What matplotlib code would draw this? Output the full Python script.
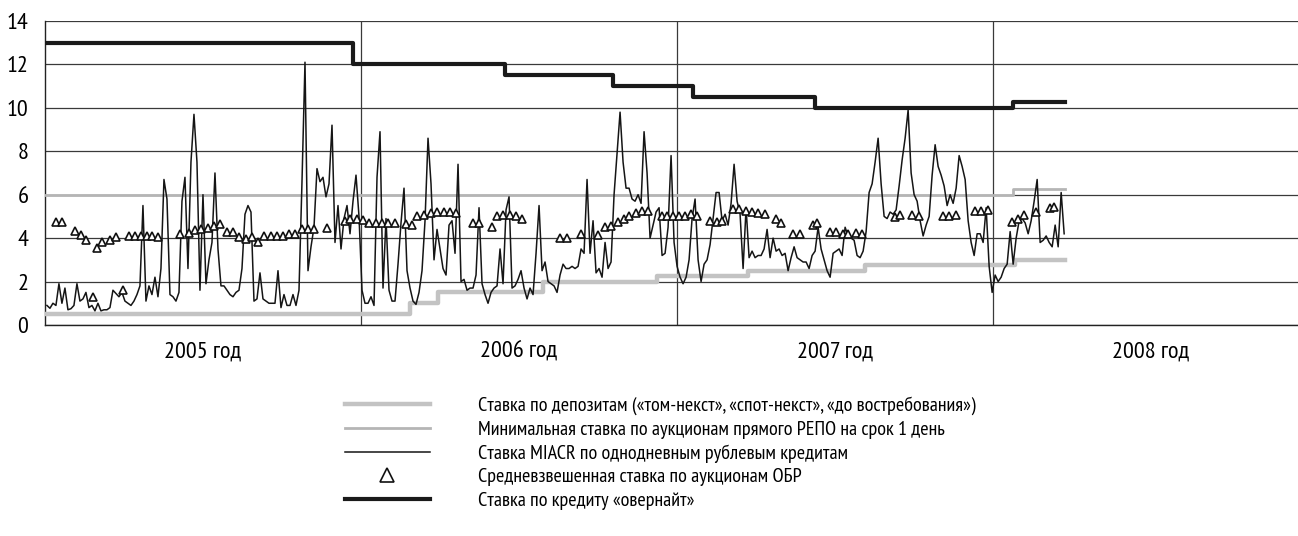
import numpy as np
import matplotlib.pyplot as plt

plt.rcParams['font.family'] = ['PT Sans Narrow', 'Roboto Condensed', 'DejaVu Sans']

# MIACR overnight rate at even steps from mid-Jan 2005 to end of Mar 2008
miacr_start, miacr_end = 2005.006, 2008.225
miacr = [
    0.9, 0.77, 1.0, 0.9, 1.9, 1.0, 1.7, 0.7, 0.75, 0.9,
    1.9, 1.1, 1.2, 1.5, 0.8, 0.9, 0.65, 1.0, 0.65, 0.7,
    0.7, 0.8, 1.6, 1.45, 1.3, 1.5, 1.1, 1.0, 0.9, 1.1,
    1.4, 1.8, 5.5, 1.1, 1.8, 1.4, 2.2, 1.3, 2.6, 6.7,
    5.8, 1.4, 1.3, 1.1, 1.5, 5.7, 6.8, 2.6, 7.5, 9.7,
    7.5,
    1.6, 6.0, 1.9, 3.0, 3.8, 7.0, 3.5, 1.8, 1.8, 1.6,
    1.4, 1.3, 1.5, 1.6, 2.6, 5.1, 5.5, 5.2, 1.1, 1.2,
    2.4, 1.2, 1.1, 1.0, 1.0, 1.0, 2.5, 0.8, 1.4, 0.9,
    0.9, 1.4, 0.9, 1.6, 6.6, 12.1, 2.5, 3.6, 4.5, 7.2,
    6.6, 6.8, 5.9, 6.5, 9.2, 3.8, 5.5, 3.5, 4.9, 5.5,
    4.2, 5.7,
    6.9, 5.0, 1.6, 1.0, 1.0, 1.3, 0.9, 6.8, 8.9, 1.7,
    4.9, 1.6, 1.1, 1.1, 2.8, 4.7, 6.3, 2.5, 1.7, 1.1,
    0.95, 1.5, 2.5, 4.8, 8.6, 6.5, 3.0, 4.4, 3.5, 2.6,
    2.3, 4.6, 4.8, 3.3, 7.4, 2.0, 2.1, 1.6, 1.7, 1.7,
    2.3, 5.4, 1.9, 1.4, 1.0, 1.5, 1.7, 1.8, 3.5, 1.9,
    5.3,
    5.9, 1.7, 1.8, 2.1, 2.5, 1.7, 1.2, 1.7, 1.4, 3.3,
    5.5, 2.5, 2.9, 2.0, 1.9, 1.8, 1.5, 2.3, 2.8, 2.6,
    2.6, 2.7, 2.6, 2.7, 3.5, 3.3, 6.7, 3.3, 4.8, 2.4,
    2.6, 2.2, 3.8, 2.6, 2.9, 6.0, 7.9, 9.8, 7.5, 6.3,
    6.3, 5.8, 5.7, 6.0, 5.6, 8.9, 7.0, 4.0, 4.6, 5.2,
    5.4, 3.2,
    3.3, 4.5, 7.8, 3.8, 2.7, 2.2, 1.9, 2.2, 3.0, 4.9,
    5.8, 3.0, 2.0, 2.8, 3.0, 3.7, 4.9, 6.1, 6.1, 4.8,
    5.1, 4.6, 5.6, 7.4, 5.7, 5.1, 2.6, 5.4, 3.1, 3.4,
    3.1, 3.2, 3.2, 3.5, 4.4, 3.1, 4.0, 3.4, 3.5, 3.2,
    3.3, 2.5, 3.1, 3.6, 3.1, 3.0, 2.9, 2.9, 2.6, 3.2,
    3.4, 4.5,
    3.5, 3.0, 2.5, 2.2, 3.3, 3.4, 3.5, 3.2, 4.5, 4.1,
    4.0, 3.9, 3.2, 3.1, 3.4, 4.3, 6.1, 6.5, 7.5, 8.6,
    6.5, 5.0, 4.9, 5.2, 5.1, 5.3, 6.4, 7.6, 8.6, 9.9,
    7.0, 6.0, 5.7, 4.8, 4.1, 4.6, 5.0, 6.9, 8.3, 7.3,
    6.9, 6.4, 5.5, 6.0, 5.6, 6.3, 7.8, 7.3, 6.7, 4.8,
    3.8,
    3.2, 4.2, 4.2, 3.8, 5.4, 2.7, 1.5, 2.3, 2.0, 2.2,
    2.6, 2.8, 4.3, 2.8, 4.0, 4.8, 4.9, 4.7, 4.2, 4.8,
    5.7, 6.7, 3.8, 3.9, 4.1, 3.8, 3.6, 4.6, 3.6, 6.1,
    4.2,
]

# OBR auctions (weighted average rate)
obr_t = [
    2005.034, 2005.053, 2005.094, 2005.113, 2005.130, 2005.151, 2005.166, 2005.179,
    2005.206, 2005.226, 2005.246, 2005.266, 2005.285, 2005.305, 2005.322, 2005.338,
    2005.359, 2005.428, 2005.454, 2005.475, 2005.495, 2005.515, 2005.535, 2005.554,
    2005.575, 2005.594, 2005.615, 2005.636, 2005.656, 2005.675, 2005.694, 2005.714,
    2005.734, 2005.754, 2005.773, 2005.792, 2005.814, 2005.832, 2005.852, 2005.892,
    2005.949, 2005.965, 2005.986, 2006.007, 2006.026, 2006.048, 2006.067, 2006.086,
    2006.108, 2006.142, 2006.160, 2006.177, 2006.199, 2006.220, 2006.241, 2006.263,
    2006.282, 2006.301, 2006.354, 2006.374, 2006.414, 2006.429, 2006.450, 2006.470,
    2006.491, 2006.510, 2006.630, 2006.651, 2006.696, 2006.751, 2006.771, 2006.791,
    2006.812, 2006.831, 2006.848, 2006.869, 2006.888, 2006.907, 2006.953, 2006.968,
    2006.987, 2007.006, 2007.025, 2007.043, 2007.063, 2007.104, 2007.125, 2007.142,
    2007.177, 2007.196, 2007.217, 2007.237, 2007.256, 2007.277, 2007.313, 2007.328,
    2007.368, 2007.389, 2007.429, 2007.444, 2007.484, 2007.503, 2007.524, 2007.542,
    2007.565, 2007.585, 2007.690, 2007.706, 2007.744, 2007.766, 2007.841, 2007.861,
    2007.883, 2007.943, 2007.962, 2007.983, 2008.060, 2008.078, 2008.098, 2008.135,
    2008.180, 2008.194,
]
obr = [
    4.75, 4.75, 4.35, 4.15, 3.9, 1.28, 3.55, 3.8,
    3.9, 4.06, 1.6, 4.08, 4.08, 4.08, 4.08, 4.08,
    4.03, 4.2, 4.22, 4.37, 4.4, 4.48, 4.55, 4.63,
    4.3, 4.26, 4.06, 3.95, 4.03, 3.8, 4.1, 4.1,
    4.1, 4.1, 4.2, 4.2, 4.43, 4.42, 4.42, 4.45,
    4.77, 4.9, 4.9, 4.83, 4.68, 4.68, 4.7, 4.7,
    4.7, 4.63, 4.6, 5.0, 5.08, 5.17, 5.2, 5.2,
    5.2, 5.17, 4.68, 4.68, 4.5, 5.0, 5.08, 5.08,
    5.0, 4.88, 4.0, 4.0, 4.2, 4.15, 4.5, 4.57,
    4.75, 4.88, 5.0, 5.15, 5.25, 5.25, 5.03, 5.03,
    5.03, 5.03, 5.03, 5.12, 5.0, 4.78, 4.72, 4.8,
    5.35, 5.35, 5.26, 5.18, 5.15, 5.1, 4.87, 4.7,
    4.18, 4.18, 4.62, 4.7, 4.26, 4.26, 4.18, 4.18,
    4.22, 4.2, 4.97, 5.05, 5.05, 5.03, 5.03, 5.03,
    5.08, 5.26, 5.26, 5.3, 4.75, 4.86, 5.08, 5.18,
    5.4, 5.45,
]

# step rates: change dates and new levels, last date = end of series
overnight_t = [2005.0, 2005.975, 2006.456, 2006.797, 2007.051, 2007.437, 2008.063, 2008.228]
overnight = [13.0, 12.0, 11.5, 11.0, 10.5, 10.0, 10.25, 10.25]

deposit_t = [2005.0, 2006.155, 2006.244, 2006.576, 2006.937, 2007.225, 2007.595, 2008.070, 2008.228]
deposit = [0.5, 1.0, 1.5, 2.0, 2.25, 2.5, 2.75, 3.0, 3.0]

repo_t = [2005.0, 2008.063, 2008.228]
repo = [6.0, 6.25, 6.25]

years = [2005, 2006, 2007, 2008]
year_labels = ['2005 год', '2006 год', '2007 год', '2008 год']

labels = [
    'Ставка по депозитам («том-некст», «спот-некст», «до востребования»)',
    'Минимальная ставка по аукционам прямого РЕПО на срок 1 день',
    'Ставка MIACR по однодневным рублевым кредитам',
    'Средневзвешенная ставка по аукционам ОБР',
    'Ставка по кредиту «овернайт»',
]

fig = plt.figure(figsize=(12.98, 5.36), dpi=100)
ax = fig.add_axes([0.0347, 0.3937, 0.9653, 0.5672])

miacr_t = np.linspace(miacr_start, miacr_end, len(miacr))

l_dep, = ax.plot(deposit_t, deposit, drawstyle='steps-post', color='#c3c3c3', lw=3.2, zorder=3)
l_repo, = ax.plot(repo_t, repo, drawstyle='steps-post', color='#b5b5b5', lw=2.0, zorder=3)
l_miacr, = ax.plot(miacr_t, miacr, color='#151515', lw=1.1, zorder=4)
l_obr, = ax.plot(obr_t, obr, ls='none', marker='^', ms=5.3, mfc='white', mec='#111111',
                 mew=1.2, zorder=5)
l_on, = ax.plot(overnight_t, overnight, drawstyle='steps-post', color='#1a1a1a', lw=3.0,
                zorder=6)

ax.set_xlim(2005, 2008.965)
ax.set_ylim(0, 14)
ax.set_yticks(range(0, 15, 2))
ax.set_xticks(years[1:])
ax.set_xticklabels([])
ax.set_xticks([y + 0.5 for y in years], minor=True)
ax.set_xticklabels(year_labels, minor=True)
ax.tick_params(axis='both', which='both', length=0)
ax.tick_params(axis='y', labelsize=17.5, pad=12)
ax.tick_params(axis='x', which='minor', labelsize=17.5, pad=12)
ax.grid(True, which='major', color='#3a3a3a', lw=0.9, zorder=0)
ax.set_axisbelow(True)
for s in ['top', 'right']:
    ax.spines[s].set_visible(False)
for s in ['left', 'bottom']:
    ax.spines[s].set_color('#222222')
    ax.spines[s].set_linewidth(1.0)

fig.legend([l_dep, l_repo, l_miacr, l_obr, l_on], labels,
           loc='upper left', bbox_to_anchor=(0.2658, 0.261), frameon=False,
           fontsize=14.5, handlelength=4.2, handletextpad=2.4, labelspacing=0.28,
           borderpad=0, borderaxespad=0, markerscale=1.9)

fig.savefig('out.png', dpi=100)
